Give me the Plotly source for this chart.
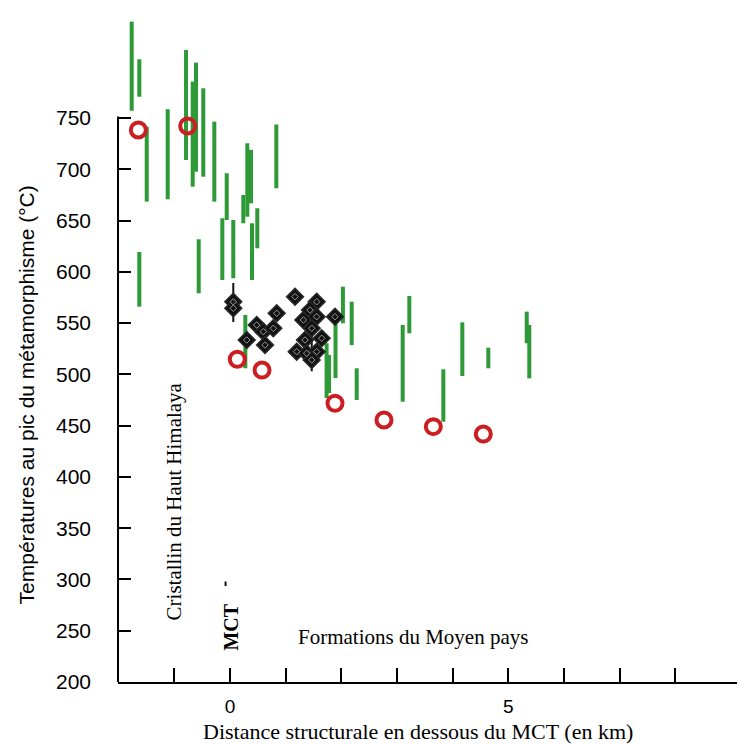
import plotly.graph_objects as go

# ---- data ----
# green bars: distance (km), T min, T max (°C)
bar_x = [-1.766, -1.629, -1.496, -1.119, -0.790, -0.670, -0.611, -0.480, -0.282, -0.059,
         -0.138, 0.059, -0.562, -1.629, 0.239, 0.311, 0.377, 0.395, 0.490, 0.832,
         0.275, 1.735, 1.780, 1.895, 2.028, 2.186, 2.276, 3.102, 3.221, 3.832,
         4.173, 4.640, 5.330, 5.376]
bar_lo = [757.0, 770.7, 668.4, 670.7, 709.0, 683.0, 697.6, 692.7, 668.4, 650.5,
          592.0, 593.7, 579.0, 566.0, 647.3, 653.7, 666.8, 592.0, 622.9, 681.4,
          505.9, 476.9, 481.8, 496.4, 549.8, 528.6, 475.0, 473.3, 540.0, 453.8,
          498.4, 505.9, 530.3, 496.1]
bar_hi = [843.9, 807.2, 741.5, 758.5, 816.3, 785.4, 803.9, 778.9, 746.4, 696.1,
          652.2, 650.5, 631.7, 619.3, 674.9, 725.3, 718.8, 647.3, 661.9, 743.6,
          557.9, 530.3, 518.9, 549.8, 585.5, 570.8, 505.9, 548.1, 576.4, 504.9,
          550.7, 526.0, 561.1, 548.1]

# red open circles
circ_x = [-1.647, -0.760, 0.131, 0.575, 1.886, 2.766, 3.652, 4.550]
circ_t = [738.3, 742.2, 514.7, 504.2, 471.8, 455.5, 449.0, 441.8]

# black diamonds
dia_x = [0.059, 0.059, 0.300, 0.480, 0.598, 0.778, 0.839, 0.629, 1.168, 1.317,
         1.557, 1.437, 1.557, 1.468, 1.647, 1.347, 1.198, 1.378, 1.557, 1.468, 1.886]
dia_t = [570.8, 564.4, 533.5, 548.1, 541.6, 544.9, 559.5, 528.6, 575.7, 553.0,
         570.8, 562.7, 556.2, 544.9, 535.2, 533.5, 522.1, 520.5, 522.1, 514.0, 556.2]

# black error lines of the diamonds (and MCT mark)
blk_x = [0.059, 1.468, -0.08]
blk_lo = [551.0, 503.0, 293.5]
blk_hi = [589.0, 545.0, 298.0]

y_ticks = list(range(200, 751, 50))
x_ticks = list(range(-1, 9))
x_ticktext = ["0" if v == 0 else ("5" if v == 5 else "") for v in x_ticks]


def segs(xs, lo, hi):
    X, Y = [], []
    for x, a, b in zip(xs, lo, hi):
        X += [x, x, None]
        Y += [a, b, None]
    return X, Y


fig = go.Figure()

gx, gy = segs(bar_x, bar_lo, bar_hi)
fig.add_trace(go.Scatter(x=gx, y=gy, mode="lines",
                         line=dict(color="#2e9a37", width=4), hoverinfo="skip"))

bx, by = segs(blk_x, blk_lo, blk_hi)
fig.add_trace(go.Scatter(x=bx, y=by, mode="lines",
                         line=dict(color="#111111", width=2), hoverinfo="skip"))

fig.add_trace(go.Scatter(x=dia_x, y=dia_t, mode="markers",
                         marker=dict(symbol="diamond", size=13, color="#111111",
                                     line=dict(color="#2a2a2a", width=1.5))))
fig.add_trace(go.Scatter(x=dia_x, y=dia_t, mode="markers",
                         marker=dict(symbol="diamond-open", size=5, color="#9a9a9a",
                                     line=dict(color="#9a9a9a", width=1))))

fig.add_trace(go.Scatter(x=circ_x, y=circ_t, mode="markers",
                         marker=dict(symbol="circle-open", size=15, color="#cc1e22",
                                     line=dict(color="#cc1e22", width=4))))

serif = "Liberation Serif, Times New Roman, serif"
sans = "Liberation Sans, Arial, sans-serif"

fig.update_layout(
    width=741, height=744,
    margin=dict(l=118, r=4, t=0, b=62),
    paper_bgcolor="white", plot_bgcolor="white",
    showlegend=False,
    font=dict(family=sans, color="black"),
    xaxis=dict(range=[-2.012, 9.107], showgrid=False, zeroline=False,
               showline=True, linecolor="black", linewidth=2,
               ticks="inside", ticklen=14, tickwidth=1.5, tickcolor="black",
               tickvals=x_ticks, ticktext=x_ticktext,
               tickfont=dict(family=sans, size=19), ticklabelstandoff=6),
    yaxis=dict(range=[200, 865], showgrid=False, zeroline=False, showline=False,
               ticks="inside", ticklen=13, tickwidth=1.5, tickcolor="black",
               tickvals=y_ticks, tickfont=dict(family=sans, size=21),
               ticklabelstandoff=26),
)

# y axis line only from 200 to 750
fig.add_shape(type="line", xref="paper", yref="y", x0=0, x1=0, y0=200, y1=751.5,
              line=dict(color="black", width=2))

fig.add_annotation(text="Températures au pic du métamorphisme (°C)",
                   xref="paper", yref="y", x=(26.5 - 118) / 619, y=479.9,
                   textangle=-90, showarrow=False, xanchor="center", yanchor="middle",
                   font=dict(family=sans, size=21, color="black"))
fig.add_annotation(text="Distance structurale en dessous du MCT (en km)",
                   xref="x", yref="paper", x=3.377, y=-(731 - 682) / 682,
                   showarrow=False, xanchor="center", yanchor="middle",
                   font=dict(family=serif, size=22, color="black"))
fig.add_annotation(text="Cristallin du Haut Himalaya", xref="x", yref="y",
                   x=-1.011, y=375.8, textangle=-90, showarrow=False,
                   xanchor="center", yanchor="middle",
                   font=dict(family=serif, size=21, color="black"))
fig.add_annotation(text="<b>MCT</b>", xref="x", yref="y", x=0.027, y=253.6,
                   textangle=-90, showarrow=False, xanchor="center", yanchor="middle",
                   font=dict(family=serif, size=20, color="black"))
fig.add_annotation(text="Formations du Moyen pays", xref="x", yref="y",
                   x=3.293, y=243.9, showarrow=False, xanchor="center", yanchor="middle",
                   font=dict(family=serif, size=21, color="black"))

fig.write_html("out.html")
